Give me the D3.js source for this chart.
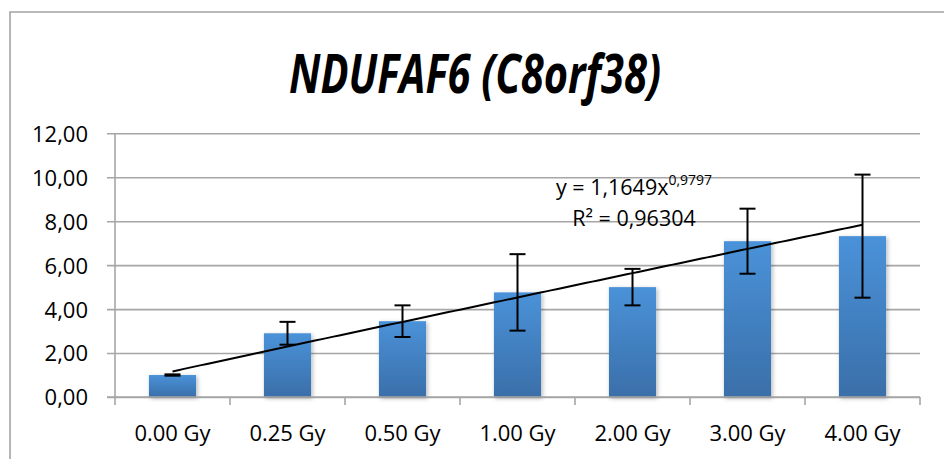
<!DOCTYPE html>
<html>
<head>
<meta charset="utf-8">
<script src="https://cdn.jsdelivr.net/npm/d3@7"></script>
<style>
  html, body { margin: 0; padding: 0; background: #fff; }
  svg { display: block; }
  text { font-family: "Open Sans", "Liberation Sans", sans-serif; fill: #000; }
</style>
</head>
<body>
<svg id="chart" width="944" height="459"></svg>
<script>
// Dose groups and mean relative expression with error (±)
const categories = ["0.00 Gy", "0.25 Gy", "0.50 Gy", "1.00 Gy", "2.00 Gy", "3.00 Gy", "4.00 Gy"];
const means = [1.00, 2.90, 3.45, 4.76, 5.00, 7.09, 7.32];
const errors = [0.03, 0.52, 0.72, 1.74, 0.83, 1.48, 2.80];
const yTicks = [0, 2, 4, 6, 8, 10, 12];

// Power trendline y = a * x^b over category index 1..7
const trendA = 1.1649;
const trendB = 0.9797;
const trendR2 = "0,96304";

const svg = d3.select("#chart");
const W = 944, H = 459;
const plot = { left: 115, right: 920, top: 133.3, bottom: 397 };

// Chart area frame
svg.append("path")
  .attr("d", `M10,${H + 5} L10,12 L${W + 5},12`)
  .attr("fill", "none")
  .attr("stroke", "#a3a3a3")
  .attr("stroke-width", 1.6);

// Title
svg.append("text")
  .attr("x", 475)
  .attr("y", 93)
  .attr("text-anchor", "middle")
  .attr("textLength", 372)
  .attr("lengthAdjust", "spacingAndGlyphs")
  .style("font-size", "53px")
  .style("font-weight", "bold")
  .style("font-style", "italic")
  .text("NDUFAF6 (C8orf38)");

const x = d3.scaleBand()
  .domain(categories)
  .range([plot.left, plot.right])
  .paddingInner(0.59)
  .paddingOuter(0.295);

const y = d3.scaleLinear()
  .domain([0, 12])
  .range([plot.bottom, plot.top]);

const fmt = v => d3.format(".2f")(v).replace(".", ",");

// Horizontal gridlines with left ticks
const yAxis = d3.axisLeft(y)
  .tickValues(yTicks)
  .tickFormat(fmt)
  .tickSize(-(plot.right - plot.left) - 8)
  .tickPadding(19);
const yg = svg.append("g")
  .attr("transform", `translate(${plot.right},0)`)
  .call(yAxis);
yg.select(".domain").remove();
yg.selectAll(".tick line")
  .attr("x1", 0)
  .attr("x2", -(plot.right - plot.left) - 8)
  .attr("stroke", "#a6a6a6")
  .attr("stroke-width", 1.6);
yg.selectAll(".tick text")
  .attr("x", -(plot.right - 88))
  .attr("dy", "0.36em")
  .style("font-size", "22px")
  .attr("text-anchor", "end");

// Vertical axis line
svg.append("line")
  .attr("x1", plot.left).attr("x2", plot.left)
  .attr("y1", plot.top).attr("y2", plot.bottom)
  .attr("stroke", "#a6a6a6")
  .attr("stroke-width", 1.6);

// Bar fill and soft shadow
const defs = svg.append("defs");
const grad = defs.append("linearGradient")
  .attr("id", "barFill")
  .attr("x1", 0).attr("y1", 0).attr("x2", 0).attr("y2", 1);
grad.append("stop").attr("offset", "0%").attr("stop-color", "#4a92d9");
grad.append("stop").attr("offset", "100%").attr("stop-color", "#3a6fa9");

const shadow = defs.append("filter")
  .attr("id", "barShadow")
  .attr("x", "-20%").attr("y", "-10%")
  .attr("width", "150%").attr("height", "130%");
shadow.append("feDropShadow")
  .attr("dx", 1.5).attr("dy", 1.5)
  .attr("stdDeviation", 2)
  .attr("flood-color", "#000")
  .attr("flood-opacity", 0.28);

svg.append("g")
  .selectAll("rect")
  .data(categories)
  .join("rect")
  .attr("x", d => x(d))
  .attr("y", (d, i) => y(means[i]))
  .attr("width", x.bandwidth())
  .attr("height", (d, i) => y(0) - y(means[i]))
  .attr("fill", "url(#barFill)")
  .attr("filter", "url(#barShadow)");

// Category axis with tick marks between groups
const boundaries = d3.range(categories.length + 1).map(i => plot.left + i * x.step());
svg.append("line")
  .attr("x1", plot.left - 8).attr("x2", plot.right)
  .attr("y1", plot.bottom).attr("y2", plot.bottom)
  .attr("stroke", "#a6a6a6")
  .attr("stroke-width", 1.6);
svg.append("g")
  .selectAll("line")
  .data(boundaries)
  .join("line")
  .attr("x1", d => d).attr("x2", d => d)
  .attr("y1", plot.bottom).attr("y2", plot.bottom + 8)
  .attr("stroke", "#a6a6a6")
  .attr("stroke-width", 1.6);
svg.append("g")
  .selectAll("text")
  .data(categories)
  .join("text")
  .attr("x", d => x(d) + x.bandwidth() / 2)
  .attr("y", 441)
  .attr("text-anchor", "middle")
  .style("font-size", "22px")
  .text(d => d);

// Error bars
const cx = d => x(d) + x.bandwidth() / 2;
const eb = svg.append("g")
  .attr("stroke", "#000")
  .attr("stroke-width", 2)
  .attr("fill", "none");
categories.forEach((c, i) => {
  const hi = y(means[i] + errors[i]);
  const lo = y(means[i] - errors[i]);
  eb.append("line").attr("x1", cx(c)).attr("x2", cx(c)).attr("y1", hi).attr("y2", lo);
  eb.append("line").attr("x1", cx(c) - 8).attr("x2", cx(c) + 8).attr("y1", hi).attr("y2", hi);
  eb.append("line").attr("x1", cx(c) - 8).attr("x2", cx(c) + 8).attr("y1", lo).attr("y2", lo);
});

// Trendline, drawn from the fitted power equation
const xi = d3.scaleLinear()
  .domain([1, categories.length])
  .range([cx(categories[0]), cx(categories[categories.length - 1])]);
const trendPts = d3.range(1, categories.length + 0.001, 0.05).map(t => [t, trendA * Math.pow(t, trendB)]);
svg.append("path")
  .datum(trendPts)
  .attr("d", d3.line().x(d => xi(d[0])).y(d => y(d[1])))
  .attr("fill", "none")
  .attr("stroke", "#000")
  .attr("stroke-width", 2);

// Trendline equation and R²
const eq = svg.append("text")
  .attr("x", 634)
  .attr("y", 195)
  .attr("text-anchor", "middle")
  .style("font-size", "21.5px");
eq.append("tspan").text("y = " + String(trendA).replace(".", ",") + "x");
eq.append("tspan")
  .attr("dy", -10)
  .style("font-size", "14px")
  .text(String(trendB).replace(".", ","));

svg.append("text")
  .attr("x", 634)
  .attr("y", 226)
  .attr("text-anchor", "middle")
  .style("font-size", "21.5px")
  .text("R² = " + trendR2);
</script>
</body>
</html>
